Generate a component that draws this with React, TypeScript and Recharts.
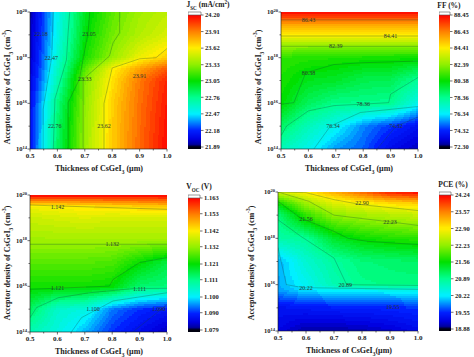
import React from "react";
import { ScatterChart, Scatter, XAxis, YAxis, ReferenceArea, ReferenceDot } from "recharts";

type Pt = [number, number];
type Grid = number[][];
const FONT = "'Liberation Serif', serif";

const THICKNESS = [0.5, 0.6, 0.7, 0.8, 0.9, 1.0];
const X_TICKS = [0.5, 0.55, 0.6, 0.65, 0.7, 0.75, 0.8, 0.85, 0.9, 0.95, 1.0];
const Y_TICKS = [14, 15, 16, 17, 18, 19, 20];

// Jsc
const JSC_ROWS = [14, 15, 16, 17, 17.5, 18, 19, 20];
const JSC_VALUES: Grid = [
  [22.13, 22.84, 23.36, 23.71, 23.97, 24.18],
  [22.12, 22.82, 23.35, 23.71, 23.96, 24.17],
  [22.1, 22.78, 23.33, 23.7, 23.95, 24.15],
  [22.05, 22.66, 23.3, 23.65, 23.93, 24.12],
  [22.02, 22.62, 23.2, 23.6, 23.82, 24.0],
  [22.0, 22.58, 23.08, 23.35, 23.58, 23.7],
  [21.98, 22.52, 23.02, 23.27, 23.42, 23.52],
  [21.96, 22.5, 22.98, 23.22, 23.38, 23.45],
];
const JSC_LINES: Pt[][] = [
  [[0.548, 14], [0.548, 15.74], [0.579, 18], [0.585, 20]],
  [[0.585, 14], [0.591, 16.2], [0.633, 17.9], [0.639, 19.09], [0.645, 20]],
  [[0.639, 14], [0.639, 16.03], [0.68, 17.05], [0.712, 19.09], [0.718, 20]],
  [[0.694, 14], [0.694, 17.05], [0.79, 18.07], [0.803, 18.65], [0.827, 19.09], [0.827, 20]],
  [[0.77, 14], [0.77, 16], [0.8, 17.55], [0.9, 17.95], [0.96, 18], [1.0, 18.4]],
];
const JSC_LABELS: [number, number, string][] = [
  [0.54, 19.05, "22.18"], [0.578, 18, "22.47"], [0.59, 15, "22.76"],
  [0.715, 19.05, "23.05"], [0.7, 17.05, "23.33"], [0.77, 15, "23.62"], [0.9, 17.2, "23.91"],
];
const JSC_TICKS = ["21.89", "22.18", "22.47", "22.76", "23.05", "23.33", "23.62", "23.91", "24.20"];

// FF
const FF_ROWS = [14, 15, 16, 17, 18, 18.5, 19, 19.5, 20];
const FF_VALUES: Grid = [
  [77.6, 76.7, 75.5, 74.9, 73.6, 72.9],
  [79.0, 77.6, 76.6, 75.3, 74.5, 73.8],
  [80.4, 79.1, 78.4, 78.4, 78.3, 76.7],
  [80.7, 80.0, 79.8, 79.3, 79.2, 78.2],
  [81.0, 80.9, 80.8, 80.7, 80.65, 80.6],
  [82.4, 82.4, 82.4, 82.4, 82.4, 82.4],
  [84.5, 84.5, 84.5, 84.5, 84.5, 84.5],
  [86.0, 86.0, 86.0, 86.0, 86.0, 86.0],
  [88.4, 88.4, 88.4, 88.4, 88.4, 88.4],
];
const FF_LINES: Pt[][] = [
  [[0.85, 14], [0.92, 15], [1, 15.4]],
  [[0.62, 14], [0.68, 15], [0.79, 15.6], [1, 15.86]],
  [[0.5, 14.58], [0.52, 15], [0.6, 15.67], [0.693, 15.9], [0.79, 15.96], [0.893, 16.03], [0.9, 16.4], [1, 17.13]],
  [[0.5, 15.96], [0.547, 16.03], [0.59, 17.34], [0.693, 17.7], [0.8, 17.78], [1, 17.85]],
  [[0.5, 18.5], [1, 18.5]],
  [[0.5, 18.95], [1, 18.95]],
  [[0.5, 19.65], [1, 19.65]],
];
const FF_LABELS: [number, number, string][] = [
  [0.6, 19.67, "86.43"], [0.9, 18.95, "84.41"], [0.7, 18.5, "82.39"], [0.6, 17.35, "80.38"],
  [0.8, 15.96, "78.36"], [0.69, 15, "76.34"], [0.92, 15, "74.32"],
];
const FF_TICKS = ["72.30", "74.32", "76.34", "78.36", "80.38", "82.39", "84.41", "86.43", "88.45"];

// Voc
const VOC_ROWS = [14, 15, 16, 17, 18, 19, 19.5, 20];
const VOC_VALUES: Grid = [
  [1.107, 1.103, 1.097, 1.09, 1.086, 1.082],
  [1.114, 1.105, 1.103, 1.094, 1.09, 1.088],
  [1.122, 1.122, 1.122, 1.121, 1.113, 1.112],
  [1.127, 1.127, 1.127, 1.126, 1.121, 1.116],
  [1.133, 1.133, 1.133, 1.133, 1.133, 1.133],
  [1.137, 1.138, 1.139, 1.138, 1.138, 1.138],
  [1.141, 1.142, 1.143, 1.144, 1.145, 1.146],
  [1.163, 1.163, 1.163, 1.163, 1.163, 1.163],
];
const VOC_LINES: Pt[][] = [
  [[0.875, 14], [1, 15.2]],
  [[0.651, 14], [0.688, 14.63], [0.803, 15.36], [1, 15.72]],
  [[0.5, 14.63], [0.524, 15.07], [0.603, 15.5], [0.718, 15.72], [0.875, 15.9], [1, 15.91]],
  [[0.5, 15.87], [0.79, 16.01], [0.803, 16.3], [0.9, 17.04], [1, 17.26]],
  [[0.5, 17.84], [1, 17.84]],
  [[0.5, 19.56], [1, 19.37]],
];
const VOC_LABELS: [number, number, string][] = [
  [0.6, 19.5, "1.142"], [0.8, 17.84, "1.132"], [0.6, 15.95, "1.121"], [0.9, 15.9, "1.111"],
  [0.73, 15, "1.100"], [0.97, 15, "1.090"],
];
const VOC_TICKS = ["1.079", "1.090", "1.100", "1.111", "1.121", "1.132", "1.142", "1.153", "1.163"];

// PCE
const PCE_ROWS = [14, 15, 15.75, 16, 17, 18, 19, 19.5, 20];
const PCE_VALUES: Grid = [
  [19.25, 19.0, 19.0, 19.05, 19.15, 19.3],
  [19.4, 19.45, 19.5, 19.52, 19.55, 19.6],
  [19.95, 20.18, 20.25, 20.28, 20.3, 20.3],
  [20.0, 20.3, 20.7, 20.9, 20.95, 20.95],
  [20.0, 20.5, 20.8, 21.0, 21.05, 21.1],
  [20.75, 20.85, 21.38, 21.6, 21.7, 21.75],
  [21.0, 21.8, 22.23, 22.35, 22.45, 22.55],
  [21.6, 22.3, 22.7, 22.85, 23.0, 23.1],
  [22.6, 22.95, 23.3, 23.7, 24.1, 24.24],
];
const PCE_LINES: Pt[][] = [
  [[0.5, 17.6], [0.53, 16], [0.59, 15.87], [1, 15.8]],
  [[0.5, 18.8], [0.58, 18.1], [0.7, 17.15], [0.745, 16], [1, 15.97]],
  [[0.5, 19.6], [0.58, 18.88], [0.7, 18.3], [0.75, 18], [0.82, 17.87], [1, 17.73]],
  [[0.5, 20], [0.61, 19.6], [0.7, 19], [0.88, 18.74], [1, 18.56]],
  [[0.5, 20], [0.6, 19.97], [0.7, 19.67], [0.8, 19.45], [1, 19.2]],
];
const PCE_LABELS: [number, number, string][] = [
  [0.8, 19.55, "22.90"], [0.9, 18.72, "22.23"], [0.6, 18.85, "21.56"], [0.74, 16, "20.89"],
  [0.6, 15.85, "20.22"], [0.91, 15.05, "19.55"],
];
const PCE_TICKS = ["18.88", "19.55", "20.22", "20.89", "21.56", "22.23", "22.90", "23.57", "24.24"];

const STOPS: [number, number, number, number][] = [
  [0, 0, 0, 16], [0.02, 0, 0, 160], [0.06, 0, 0, 224], [0.125, 0, 32, 255], [0.25, 0, 240, 255],
  [0.375, 0, 255, 144], [0.5, 0, 224, 0], [0.625, 144, 240, 0], [0.75, 255, 238, 0],
  [0.875, 255, 128, 0], [1, 255, 0, 0],
];
function colorOf(t: number) {
  const c = Math.max(0, Math.min(1, t));
  let i = 0;
  while (i < STOPS.length - 2 && c > STOPS[i + 1][0]) i++;
  const a = STOPS[i], b = STOPS[i + 1];
  const f = (c - a[0]) / (b[0] - a[0]);
  const m = (k: number) => Math.round(a[k] + (b[k] - a[k]) * f);
  return `rgb(${m(1)},${m(2)},${m(3)})`;
}
function locate(arr: number[], v: number) {
  let i = 0;
  while (i < arr.length - 2 && v > arr[i + 1]) i++;
  return [i, (v - arr[i]) / (arr[i + 1] - arr[i])];
}
function sample(rows: number[], grid: Grid, x: number, y: number) {
  const [ci, cf] = locate(THICKNESS, x);
  const [ri, rf] = locate(rows, y);
  const a = grid[ri][ci] * (1 - cf) + grid[ri][ci + 1] * cf;
  const b = grid[ri + 1][ci] * (1 - cf) + grid[ri + 1][ci + 1] * cf;
  return a * (1 - rf) + b * rf;
}
const NX = 90, NY = 68, LEVELS = 64;
function shadeRuns(rows: number[], grid: Grid, min: number, max: number) {
  const out: { x1: number; x2: number; y1: number; y2: number; fill: string }[] = [];
  for (let j = 0; j < NY; j++) {
    const y1 = 14 + (6 * j) / NY, y2 = 14 + (6 * (j + 1)) / NY;
    let start = 0, prev = -1;
    for (let i = 0; i <= NX; i++) {
      const lv = i === NX ? -2 : Math.round(((sample(rows, grid, 0.5 + (0.5 * (i + 0.5)) / NX, (y1 + y2) / 2) - min) / (max - min)) * LEVELS);
      if (lv !== prev) {
        if (prev !== -1) out.push({ x1: 0.5 + (0.5 * start) / NX, x2: 0.5 + (0.5 * i) / NX, y1, y2, fill: colorOf(prev / LEVELS) });
        start = i;
        prev = lv;
      }
    }
  }
  return out;
}

const crisp = (p: any) => <rect x={p.x} y={p.y} width={p.width} height={p.height} fill={p.fill} shapeRendering="crispEdges" />;

const XTick = (p: any) => {
  const major = Math.abs(p.payload.value * 10 - Math.round(p.payload.value * 10)) < 1e-6;
  return (
    <g>
      <line x1={p.x} x2={p.x} y1={p.y} y2={p.y + (major ? 2.5 : 1.5)} stroke="#111" strokeWidth={0.6} />
      {major && <text x={p.x} y={p.y + 9} textAnchor="middle" fontFamily={FONT} fontWeight="bold" fontSize={7} fill="#222">{p.payload.value.toFixed(1)}</text>}
    </g>
  );
};
const YTick = (p: any) => {
  const major = p.payload.value % 2 === 0;
  return (
    <g>
      <line x1={p.x} x2={p.x - (major ? 2.5 : 1.5)} y1={p.y} y2={p.y} stroke="#111" strokeWidth={0.6} />
      {major && (
        <text x={p.x - 3} y={p.y + 2} textAnchor="end" fontFamily={FONT} fontWeight="bold" fontSize={6.5} fill="#222">
          10<tspan fontSize={4.5} dy={-2.5}>{p.payload.value}</tspan>
        </text>
      )}
    </g>
  );
};

function Heat(props: { l: number; t: number; w: number; h: number; rows: number[]; grid: Grid; lines: Pt[][]; labels: [number, number, string][]; ticks: string[] }) {
  const { l, t, w, h, rows, grid, lines, labels, ticks } = props;
  const min = parseFloat(ticks[0]), max = parseFloat(ticks[ticks.length - 1]);
  return (
    <div style={{ position: "absolute", left: l - 30, top: t - 8 }}>
      <ScatterChart width={w + 40} height={h + 28} margin={{ top: 8, left: 0, right: 10, bottom: 0 }}>
        <XAxis type="number" dataKey="x" domain={[0.5, 1]} ticks={X_TICKS} interval={0} height={20} tickSize={0} tickMargin={0} tick={XTick} tickLine={false} axisLine={{ stroke: "#111", strokeWidth: 0.6 }} allowDataOverflow />
        <YAxis type="number" dataKey="y" domain={[14, 20]} ticks={Y_TICKS} interval={0} width={30} tickSize={0} tickMargin={0} tick={YTick} tickLine={false} axisLine={{ stroke: "#111", strokeWidth: 0.6 }} allowDataOverflow />
        {shadeRuns(rows, grid, min, max).map((r, i) => (
          <ReferenceArea key={i} x1={r.x1} x2={r.x2} y1={r.y1} y2={r.y2} fill={r.fill} fillOpacity={1} stroke="none" shape={crisp} />
        ))}
        {lines.map((d, i) => (
          <Scatter key={i} data={d.map(([x, y]) => ({ x, y }))} line={{ stroke: "rgba(20,70,50,0.42)", strokeWidth: 0.7 }} shape={() => <g />} isAnimationActive={false} />
        ))}
        {labels.map(([x, y, s], i) => (
          <ReferenceDot key={i} x={x} y={y} r={0} stroke="none" fill="none" label={{ value: s, position: "center", fontSize: 6, fontFamily: FONT, fill: "#2a3a30" }} />
        ))}
      </ScatterChart>
    </div>
  );
}

function Bar(props: { l: number; w: number; tickTop: number; tickBot: number; ticks: string[] }) {
  const { l, w, tickTop, tickBot, ticks } = props;
  const min = parseFloat(ticks[0]), max = parseFloat(ticks[ticks.length - 1]);
  const k = (max - min) / (tickBot - tickTop);
  const lo = min - 2 * k, hi = max + 3 * k;
  const strips = [];
  for (let i = 0; i < 132; i++) strips.push(min + ((max - min) * i) / 132);
  const step = (max - min) / 132;
  return (
    <div style={{ position: "absolute", left: l, top: tickTop - 3 - 4 }}>
      <ScatterChart width={w + 36} height={tickBot - tickTop + 5 + 8} margin={{ top: 4, left: 0, right: 0, bottom: 4 }}>
        <XAxis type="number" dataKey="x" domain={[0, 1]} hide allowDataOverflow />
        <YAxis type="number" dataKey="y" orientation="right" domain={[lo, hi]} ticks={ticks.map(parseFloat)} interval={0} width={36} tickSize={2.5} tickMargin={1.5} axisLine={false} tick={{ fontSize: 6.5, fontFamily: FONT, fontWeight: "bold", fill: "#222" }} tickFormatter={(v: number) => ticks.find((s) => parseFloat(s) === v) ?? ""} tickLine={{ stroke: "#111", strokeWidth: 0.6 }} allowDataOverflow />
        <ReferenceArea x1={0} x2={1} y1={lo} y2={min} fill="#000010" fillOpacity={1} stroke="none" shape={crisp} />
        {strips.map((v, i) => (
          <ReferenceArea key={i} x1={0} x2={1} y1={v} y2={v + step} fill={colorOf((v + step / 2 - min) / (max - min))} fillOpacity={1} stroke="none" shape={crisp} />
        ))}
        <ReferenceArea x1={0} x2={1} y1={max} y2={hi} fill="#fff" fillOpacity={1} stroke="#555" strokeWidth={0.6} />
      </ScatterChart>
    </div>
  );
}

const titleStyle: React.CSSProperties = { position: "absolute", fontFamily: FONT, fontWeight: "bold", whiteSpace: "nowrap", color: "#222", lineHeight: 1 };
const small: React.CSSProperties = { fontSize: "68%", lineHeight: 0 };

const XTitle = ({ cx, cy, tight }: { cx: number; cy: number; tight?: boolean }) => (
  <div style={{ ...titleStyle, left: cx, top: cy, fontSize: 8, transform: "translate(-50%,-50%)" }}>
    Thickness of CsGeI<sub style={small}>3</sub>{tight ? "" : " "}(µm)
  </div>
);
const YTitle = ({ cx, cy }: { cx: number; cy: number }) => (
  <div style={{ ...titleStyle, left: cx, top: cy, fontSize: 8, transform: "translate(-50%,-50%) rotate(-90deg)" }}>
    Acceptor density of CsGeI<sub style={small}>3</sub> (cm<sup style={small}>-3</sup>)
  </div>
);
const BarTitle = ({ cx, cy, children }: { cx: number; cy: number; children: React.ReactNode }) => (
  <div style={{ ...titleStyle, left: cx, top: cy, fontSize: 7.5, transform: "translate(-50%,-50%)" }}>{children}</div>
);

export default function App() {
  return (
    <div style={{ position: "absolute", left: 0, top: 0, width: 474, height: 357, background: "#fff", overflow: "hidden" }}>
      <Heat l={30} t={12} w={137} h={137} rows={JSC_ROWS} grid={JSC_VALUES} lines={JSC_LINES} labels={JSC_LABELS} ticks={JSC_TICKS} />
      <Bar l={188} w={13} tickTop={15} tickBot={147} ticks={JSC_TICKS} />
      <XTitle cx={99} cy={169} />
      <YTitle cx={8} cy={87} />
      <BarTitle cx={208} cy={5}>J<sub style={small}>SC</sub> (mA/cm<sup style={small}>2</sup>)</BarTitle>

      <Heat l={281} t={12} w={137} h={137} rows={FF_ROWS} grid={FF_VALUES} lines={FF_LINES} labels={FF_LABELS} ticks={FF_TICKS} />
      <Bar l={439} w={11} tickTop={15} tickBot={147} ticks={FF_TICKS} />
      <XTitle cx={349} cy={169} />
      <YTitle cx={259} cy={87} />
      <BarTitle cx={449} cy={6}>FF (%)</BarTitle>

      <Heat l={30} t={195} w={137} h={137} rows={VOC_ROWS} grid={VOC_VALUES} lines={VOC_LINES} labels={VOC_LABELS} ticks={VOC_TICKS} />
      <Bar l={188} w={12} tickTop={198} tickBot={330} ticks={VOC_TICKS} />
      <XTitle cx={99} cy={352} />
      <YTitle cx={8} cy={263} />
      <BarTitle cx={199} cy={187}>V<sub style={small}>OC</sub> (V)</BarTitle>

      <Heat l={278} t={192} w={140} h={139} rows={PCE_ROWS} grid={PCE_VALUES} lines={PCE_LINES} labels={PCE_LABELS} ticks={PCE_TICKS} />
      <Bar l={439} w={12} tickTop={195} tickBot={329} ticks={PCE_TICKS} />
      <XTitle cx={349} cy={351} tight />
      <YTitle cx={252} cy={263} />
      <BarTitle cx={453} cy={185}>PCE (%)</BarTitle>
    </div>
  );
}
